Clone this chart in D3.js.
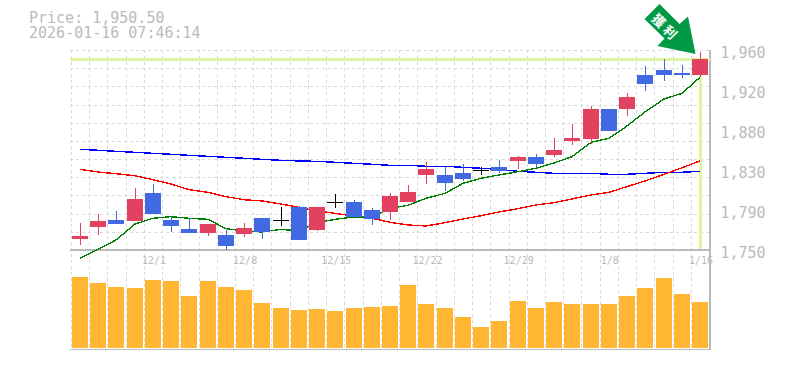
<!DOCTYPE html>
<html><head><meta charset="utf-8">
<script src="https://cdnjs.cloudflare.com/ajax/libs/d3/7.9.0/d3.min.js"></script>
<style>
html,body{margin:0;padding:0;background:#fff;overflow:hidden}
svg{display:block}
text{font-family:"DejaVu Sans Mono",monospace;fill:#bbb}
</style></head><body><svg id="c" width="785" height="370"></svg>
<script>
const priceText = "Price: 1,950.50";
const timeText = "2026-01-16 07:46:14";
const badgeText = "獲利";
const currentPrice = 1950.5;
const dates = ["11/25","11/26","11/27","11/28","12/1","12/2","12/3","12/4","12/5","12/8","12/9","12/10","12/11","12/12","12/15","12/16","12/17","12/18","12/19","12/22","12/23","12/24","12/25","12/26","12/29","12/30","1/5","1/6","1/7","1/8","1/9","1/12","1/13","1/14","1/16"];
const dateTicks = ["12/1","12/8","12/15","12/22","12/29","1/8","1/16"];
const priceTicks = [1960,1918,1876,1834,1792,1750];
const priceTickLabels = ["1,960","1,920","1,880","1,830","1,790","1,750"];
const open = [1761.6,1774.2,1781.5,1780.5,1809.9,1781.5,1772.1,1767.9,1765.8,1766.8,1783.6,1781.8,1795.2,1771,1800.4,1800.4,1792,1789.9,1800.4,1828.8,1828.8,1830.9,1834,1837.2,1843.5,1847.7,1849.8,1864.5,1866.6,1898.1,1898.1,1933.8,1939,1935.9,1933.8];
const close = [1764.7,1780.5,1777.3,1803.6,1787.8,1775.2,1767.9,1777.3,1754.2,1773.1,1768.9,1781.8,1760.5,1795.2,1800.4,1784.7,1782.6,1806.7,1810.9,1835.1,1820.4,1824.6,1834,1833,1847.7,1840.3,1855,1867.6,1898.1,1875,1910.7,1924.3,1933.8,1933.8,1950.5];
const high = [1778.4,1787.8,1791,1815.1,1819.3,1784.7,1783.6,1777.3,1771,1778.4,1783.6,1795.2,1796.2,1795.2,1808.8,1802.5,1794.1,1809.9,1818.3,1842.4,1837.2,1840.3,1837.2,1844.5,1848.7,1850.8,1867.6,1882.3,1901.2,1898.1,1914.9,1943.2,1950.6,1944.3,1957.9];
const low = [1755.3,1765.8,1777.3,1780.5,1787.8,1768.9,1767.9,1764.7,1750,1763.7,1761.6,1775.2,1760.5,1770,1794.1,1784.7,1776.3,1781.5,1800.4,1819.3,1812,1822.5,1828.8,1830.9,1835.1,1836.1,1847.7,1860.3,1861.3,1875,1890.7,1917,1927.5,1930.6,1931.7];
const maShort = [1741.3,1750.7,1760.5,1777.3,1783.3,1785,1783.3,1782.2,1772.4,1770,1768.9,1771.7,1770,1778.7,1782.2,1784.7,1784.3,1793.8,1796.9,1804.3,1809.5,1820,1825.3,1828.8,1832.2,1835.8,1841.4,1848,1863.1,1867.3,1880.2,1894.9,1908.6,1914.5,1931.3];
const maMid = [1834.7,1831.9,1830.1,1828,1823.8,1819.3,1813.3,1810.6,1806,1802.8,1801.5,1798.3,1794.8,1791,1788.5,1785.7,1783.3,1779.1,1776.3,1775.2,1778.7,1782.6,1786,1789.9,1793.4,1797.3,1799.7,1803.6,1807.8,1810.6,1816.5,1822.5,1829.5,1836.4,1843.5];
const maLong = [1855.7,1854.7,1853.6,1852.6,1851.5,1850.5,1849.4,1848.4,1847.3,1846.3,1845.2,1844.2,1843.5,1843.1,1842.1,1841,1840,1838.9,1838.9,1837.9,1837.9,1836.8,1835.8,1834.7,1832.6,1831.6,1830.5,1830.5,1830.5,1829.5,1829.5,1830.5,1831.6,1831.6,1832.6];
const volume = [71,65,61,60,68,67,52,67,61,58,45,40,38,39,37,40,41,42,63,44,40,31,21,27,47,40,46,44,44,44,52,60,70,54,46];

const svg = d3.select("#c");
const x = d3.scaleBand().domain(dates).range([70.9,709.1]);
const cx = d => Math.round(x(d)+x.bandwidth()/2);
const y = d3.scaleLinear().domain([1750,1960]).range([250,50]);
const yVol = d3.scaleLinear().domain([0,100]).range([348,248]);
const RED="#e2425f", BLUE="#4169e1", GRID="#d9d9d9", AXIS="#bbb", HILITE="#e0f5a2";

// grid
const gridG = svg.append("g").attr("stroke",GRID).attr("stroke-dasharray","3,3").attr("shape-rendering","crispEdges");
gridG.selectAll("line.v").data(dates).join("line").attr("class","v")
  .attr("x1",d=>Math.round(x(d))).attr("x2",d=>Math.round(x(d))).attr("y1",50).attr("y2",350);
gridG.selectAll("line.h").data(d3.range(1,12).map(i=>1750+i*210/11)).join("line").attr("class","h")
  .attr("x1",70).attr("x2",710).attr("y1",d=>Math.round(y(d))).attr("y2",d=>Math.round(y(d)));

// volume
svg.append("g").selectAll("rect").data(dates).join("rect")
  .attr("x",d=>cx(d)-8).attr("width",16)
  .attr("y",(d,i)=>yVol(volume[i])).attr("height",(d,i)=>yVol(0)-yVol(volume[i]))
  .attr("fill","#ffb733");

// frame
const frame = svg.append("g").attr("stroke",AXIS).attr("stroke-width",1.5).attr("shape-rendering","crispEdges");
frame.append("line").attr("x1",70).attr("x2",711).attr("y1",250).attr("y2",250);
frame.append("line").attr("x1",70).attr("x2",711).attr("y1",349.5).attr("y2",349.5);
frame.append("line").attr("x1",710).attr("x2",710).attr("y1",50).attr("y2",350);

// current price highlight
const lastDate = dates[dates.length-1];
svg.append("line").attr("x1",70).attr("x2",710).attr("y1",y(currentPrice)).attr("y2",y(currentPrice))
  .attr("stroke",HILITE).attr("stroke-width",3).attr("shape-rendering","crispEdges");
svg.append("line").attr("x1",cx(lastDate)).attr("x2",cx(lastDate)).attr("y1",y(currentPrice)).attr("y2",249)
  .attr("stroke",HILITE).attr("stroke-width",3).attr("shape-rendering","crispEdges");

// moving averages
const line = d3.line().x((v,i)=>cx(dates[i])).y(v=>y(v));
[[maLong,"#0000ff"],[maMid,"#ff0000"],[maShort,"#008000"]].forEach(([s,c])=>{
  svg.append("path").attr("d",line(s)).attr("fill","none").attr("stroke",c).attr("stroke-width",1.4).attr("shape-rendering","crispEdges");
});

// candles
const col = i => close[i]>open[i] ? RED : (close[i]<open[i] ? BLUE : "#000");
const cg = svg.append("g").attr("shape-rendering","crispEdges");
cg.selectAll("line.w").data(dates).join("line").attr("class","w")
  .attr("x1",cx).attr("x2",cx)
  .attr("y1",(d,i)=>Math.round(y(high[i]))).attr("y2",(d,i)=>Math.round(y(low[i])))
  .attr("stroke",(d,i)=>col(i)).attr("stroke-width",1);
cg.selectAll("rect").data(dates).join("rect")
  .attr("x",d=>cx(d)-8).attr("width",16)
  .attr("y",(d,i)=>Math.round(y(Math.max(open[i],close[i]))))
  .attr("height",(d,i)=>Math.max(1,Math.round(Math.abs(y(open[i])-y(close[i])))))
  .attr("fill",(d,i)=>col(i));

// axes
const yAxis = d3.axisRight(y).tickValues(priceTicks).tickSize(0).tickPadding(0)
  .tickFormat((d,i)=>priceTickLabels[i]);
const yG = svg.append("g").attr("transform","translate(720.5,3)").call(yAxis);
yG.select(".domain").remove();
yG.selectAll("text").attr("font-size",15).style("font-family",'"DejaVu Sans Mono",monospace').style("fill","#bbb");

const xAxis = d3.axisBottom(x).tickValues(dateTicks).tickSize(0).tickPadding(0);
const xG = svg.append("g").attr("transform","translate(1,257)").call(xAxis);
xG.select(".domain").remove();
xG.selectAll("text").attr("font-size",10).style("font-family",'"DejaVu Sans Mono",monospace').style("fill","#bbb");

// header
svg.append("text").attr("x",29).attr("y",23).attr("font-size",15).text(priceText);
svg.append("text").attr("x",29).attr("y",38).attr("font-size",15).text(timeText);

// arrow badge, anchored on the last candle's high
const tipX = cx(lastDate)-4.5, tipY = y(high[high.length-1])+2;
const badge = svg.append("g").attr("transform",`translate(${tipX},${tipY})`);
const arrowShape = [[-36,-50],[-51,-35],[-31,-15.5],[-38,-8],[0,0],[-7.5,-37.5],[-16,-30]];
badge.append("polygon").attr("points",arrowShape.map(p=>p.join(",")).join(" ")).attr("fill","#009944");
badge.append("text").attr("transform","translate(-29.5,-27) rotate(45)")
  .attr("text-anchor","middle").attr("dominant-baseline","central")
  .attr("font-size",13).attr("letter-spacing",3).style("font-family",'"Noto Sans CJK JP",sans-serif').style("font-weight",700).style("fill","#fff")
  .text(badgeText);
</script></body></html>
